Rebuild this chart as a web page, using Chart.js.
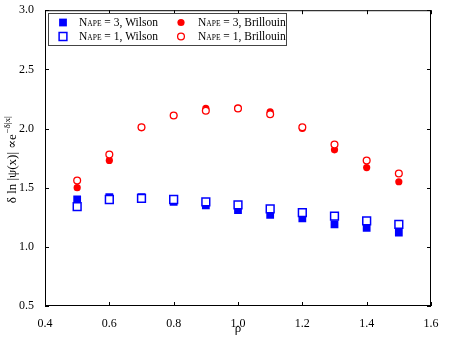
<!DOCTYPE html>
<html>
<head>
<meta charset="utf-8">
<script src="https://cdn.jsdelivr.net/npm/chart.js@4"></script>
<style>
  body { margin: 0; background: #fff; }
  canvas { display: block; }
</style>
</head>
<body>
<canvas id="chart" width="454" height="341"></canvas>
<script>
// ── Data ───────────────────────────────────────────────────
const rho      = [0.5, 0.6, 0.7, 0.8, 0.9, 1.0, 1.1, 1.2, 1.3, 1.4, 1.5];
const wilson3  = [1.40, 1.42, 1.42, 1.38, 1.35, 1.31, 1.27, 1.24, 1.19, 1.16, 1.12];
const wilson1  = [1.34, 1.40, 1.41, 1.40, 1.38, 1.355, 1.32, 1.29, 1.26, 1.22, 1.19];
const brill3   = [1.50, 1.73, 2.01, 2.11, 2.17, 2.17, 2.14, 2.00, 1.82, 1.67, 1.55];
const brill1   = [1.56, 1.78, 2.01, 2.11, 2.15, 2.17, 2.12, 2.01, 1.865, 1.73, 1.62];
const xTicks   = [0.4, 0.6, 0.8, 1.0, 1.2, 1.4, 1.6];
const yTicks   = [0.5, 1.0, 1.5, 2.0, 2.5, 3.0];

const SERIF = '"Liberation Serif", "DejaVu Serif", serif';
const BLUE = '#0000ff', RED = '#ff0000';

function pts(ys) { return rho.map((x, i) => ({ x, y: ys[i] })); }

// marker styles shared by datasets and the hand-drawn legend
const markers = {
  w3: { pointStyle: 'rect',   radius: 5.5, backgroundColor: BLUE,   borderColor: BLUE, borderWidth: 0 },
  w1: { pointStyle: 'rect',   radius: 5.5, backgroundColor: '#fff', borderColor: BLUE, borderWidth: 1.5 },
  b3: { pointStyle: 'circle', radius: 3.6, backgroundColor: RED,    borderColor: RED,  borderWidth: 0 },
  b1: { pointStyle: 'circle', radius: 3.4, backgroundColor: '#fff', borderColor: RED,  borderWidth: 1.3 }
};

function ds(label, ys, m, order) {
  return {
    label, data: pts(ys), order,
    pointStyle: m.pointStyle, pointRadius: m.radius, pointHoverRadius: m.radius,
    pointBackgroundColor: m.backgroundColor, pointBorderColor: m.borderColor,
    pointBorderWidth: m.borderWidth, showLine: false
  };
}

// ── Frame, inward ticks, axis titles, legend ───────────────
const decorPlugin = {
  id: 'decor',
  afterDraw(chart) {
    const { ctx, chartArea: a, scales } = chart;
    ctx.save();
    ctx.strokeStyle = '#000';
    ctx.lineWidth = 1;
    ctx.strokeRect(a.left + 0.5, a.top + 0.5, a.right - a.left - 1, a.bottom - a.top - 1);
    ctx.beginPath();
    xTicks.forEach(v => {
      const x = Math.round(scales.x.getPixelForValue(v)) + 0.5;
      ctx.moveTo(x, a.bottom); ctx.lineTo(x, a.bottom - 4);
      ctx.moveTo(x, a.top);    ctx.lineTo(x, a.top + 4);
    });
    yTicks.forEach(v => {
      const y = Math.round(scales.y.getPixelForValue(v)) + 0.5;
      ctx.moveTo(a.left, y);  ctx.lineTo(a.left + 4, y);
      ctx.moveTo(a.right, y); ctx.lineTo(a.right - 4, y);
    });
    ctx.stroke();

    // x title
    ctx.fillStyle = '#000';
    ctx.font = '13px ' + SERIF;
    ctx.textAlign = 'center';
    ctx.textBaseline = 'alphabetic';
    ctx.fillText('ρ', (a.left + a.right) / 2, 332);

    // y title with superscript
    const main = 'δ ln |ψ(x)| ∝e', sup = '−δ|x|';
    ctx.font = '13px ' + SERIF;
    const wMain = ctx.measureText(main).width;
    ctx.font = '9px ' + SERIF;
    const wSup = ctx.measureText(sup).width;
    ctx.translate(16, 160);
    ctx.rotate(-Math.PI / 2);
    ctx.textAlign = 'left';
    const x0 = -(wMain + wSup) / 2;
    ctx.font = '13px ' + SERIF;
    ctx.fillText(main, x0, 0);
    ctx.font = '9px ' + SERIF;
    ctx.fillText(sup, x0 + wMain + 0.5, -6);
    ctx.setTransform(1, 0, 0, 1, 0, 0);

    // legend
    ctx.fillStyle = '#fff';
    ctx.fillRect(48.5, 13.5, 238, 32);
    ctx.strokeStyle = '#444';
    ctx.strokeRect(48.5, 13.5, 238, 32);
    const entries = [
      { m: markers.w3, n: '3', name: 'Wilson',    mx: 63,  tx: 79,  y: 22.5 },
      { m: markers.b3, n: '3', name: 'Brillouin', mx: 181, tx: 198, y: 22.5 },
      { m: markers.w1, n: '1', name: 'Wilson',    mx: 63,  tx: 79,  y: 36.5 },
      { m: markers.b1, n: '1', name: 'Brillouin', mx: 181, tx: 198, y: 36.5 }
    ];
    entries.forEach(e => {
      ctx.fillStyle = e.m.backgroundColor;
      ctx.strokeStyle = e.m.borderColor;
      ctx.lineWidth = e.m.borderWidth;
      Chart.helpers.drawPoint(ctx, { pointStyle: e.m.pointStyle, radius: e.m.radius, rotation: 0, borderWidth: e.m.borderWidth }, e.mx, e.y);
      ctx.fillStyle = '#000';
      ctx.textBaseline = 'middle';
      ctx.textAlign = 'left';
      let x = e.tx;
      ctx.font = '11.5px ' + SERIF;
      ctx.fillText('N', x, e.y);
      x += ctx.measureText('N').width;
      ctx.font = '7.5px ' + SERIF;
      ctx.fillText('APE', x, e.y + 2);
      x += ctx.measureText('APE').width;
      ctx.font = '11.5px ' + SERIF;
      ctx.fillText(' = ' + e.n + ', ' + e.name, x, e.y);
    });
    ctx.restore();
  }
};

new Chart(document.getElementById('chart'), {
  type: 'scatter',
  data: {
    datasets: [
      ds('N_APE = 1, Brillouin', brill1,  markers.b1, 0),
      ds('N_APE = 3, Brillouin', brill3,  markers.b3, 1),
      ds('N_APE = 1, Wilson',    wilson1, markers.w1, 2),
      ds('N_APE = 3, Wilson',    wilson3, markers.w3, 3)
    ]
  },
  options: {
    responsive: false,
    animation: false,
    layout: { padding: { top: 9, right: 23, left: 0, bottom: 0 } },
    plugins: { legend: { display: false }, tooltip: { enabled: false } },
    scales: {
      x: {
        type: 'linear', min: 0.4, max: 1.6,
        afterBuildTicks: s => { s.ticks = xTicks.map(v => ({ value: v })); },
        afterFit: s => { s.height = 35; },
        grid: { display: false }, border: { display: false },
        ticks: { color: '#000', padding: 3, font: { family: SERIF, size: 12 }, callback: v => v.toFixed(1) }
      },
      y: {
        min: 0.5, max: 3.0,
        afterBuildTicks: s => { s.ticks = yTicks.map(v => ({ value: v })); },
        afterFit: s => { s.width = 45; },
        grid: { display: false }, border: { display: false },
        ticks: { color: '#000', padding: 3, font: { family: SERIF, size: 12 }, callback: v => v.toFixed(1) }
      }
    }
  },
  plugins: [decorPlugin]
});
</script>
</body>
</html>
